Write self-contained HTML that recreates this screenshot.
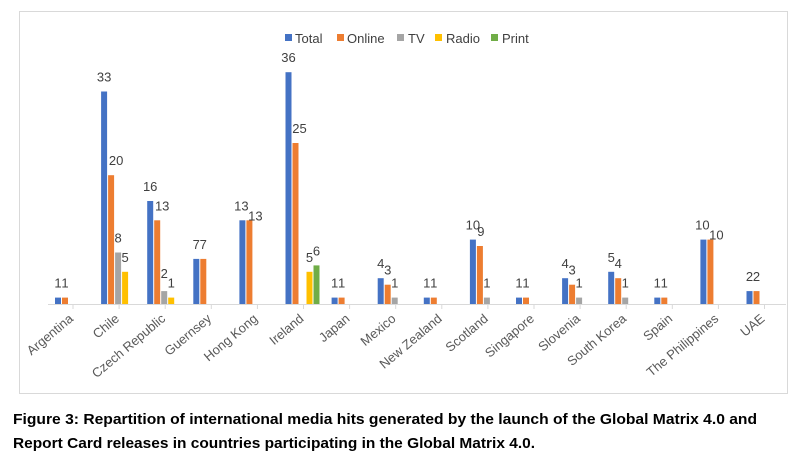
<!DOCTYPE html>
<html><head><meta charset="utf-8"><style>
html,body{margin:0;padding:0;background:#fff;width:805px;height:462px;overflow:hidden}
svg{display:block}
</style></head><body>
<svg id="s" width="805" height="462" xmlns="http://www.w3.org/2000/svg" font-family="Liberation Sans, sans-serif">
<rect x="19.5" y="11.5" width="768" height="382" fill="#fff" stroke="#d9d9d9"/>
<line x1="48" y1="304.5" x2="786" y2="304.5" stroke="#d9d9d9"/>
<g font-size="13" fill="#404040">
<rect x="285" y="34" width="7" height="7" fill="#4472C4"/><text x="295" y="43">Total</text>
<rect x="337" y="34" width="7" height="7" fill="#ED7D31"/><text x="347" y="43">Online</text>
<rect x="397" y="34" width="7" height="7" fill="#A5A5A5"/><text x="408" y="43">TV</text>
<rect x="435" y="34" width="7" height="7" fill="#FFC000"/><text x="446" y="43">Radio</text>
<rect x="491" y="34" width="7" height="7" fill="#70AD47"/><text x="502" y="43">Print</text>
</g>
<g id="bars"></g>
<g font-size="15" font-weight="bold" fill="#000">
<text x="13" y="424" textLength="744" lengthAdjust="spacingAndGlyphs">Figure 3: Repartition of international media hits generated by the launch of the Global Matrix 4.0 and</text>
<text x="13" y="448" textLength="522" lengthAdjust="spacingAndGlyphs">Report Card releases in countries participating in the Global Matrix 4.0.</text>
</g>
</svg>
<script>
var d=[["Argentina",[1,1]],["Chile",[33,20,8,5]],["Czech Republic",[16,13,2,1]],["Guernsey",[7,7]],["Hong Kong",[13,13]],["Ireland",[36,25,0,5,6]],["Japan",[1,1]],["Mexico",[4,3,1]],["New Zealand",[1,1]],["Scotland",[10,9,1]],["Singapore",[1,1]],["Slovenia",[4,3,1]],["South Korea",[5,4,1]],["Spain",[1,1]],["The Philippines",[10,10]],["UAE",[2,2]]];
var off={"1_1":[5,0],"2_1":[5,0],"2_2":[0,-3],"4_0":[-1,0],"4_1":[6,10],"5_1":[4,0],"14_0":[-1,0],"14_1":[6,10],"9_1":[1,0]};
var c=["#4472C4","#ED7D31","#A5A5A5","#FFC000","#70AD47"];
var h="",step=46.1,k=6.44;
d.forEach(function(e,i){
 var x0=55+i*step;
 e[1].forEach(function(v,s){
  if(!v)return;
  var x=x0+s*7,hh=v*k,y=304-hh,o=off[i+"_"+s]||[0,0];
  h+='<rect x="'+x.toFixed(1)+'" y="'+y.toFixed(1)+'" width="6" height="'+hh.toFixed(1)+'" fill="'+c[s]+'"/>';
  h+='<text x="'+(x+3+o[0]).toFixed(1)+'" y="'+(y-10+o[1]).toFixed(1)+'" font-size="13" fill="#404040" text-anchor="middle">'+v+'</text>';
 });
 var tx=73+i*step;
 h+='<line x1="'+tx.toFixed(1)+'" y1="304" x2="'+tx.toFixed(1)+'" y2="309" stroke="#d9d9d9"/>';
 h+='<text transform="translate('+(tx+1).toFixed(1)+',320) rotate(-40)" font-size="13" fill="#595959" text-anchor="end">'+e[0]+'</text>';
});
document.getElementById("bars").innerHTML=h;
</script>
</body></html>
